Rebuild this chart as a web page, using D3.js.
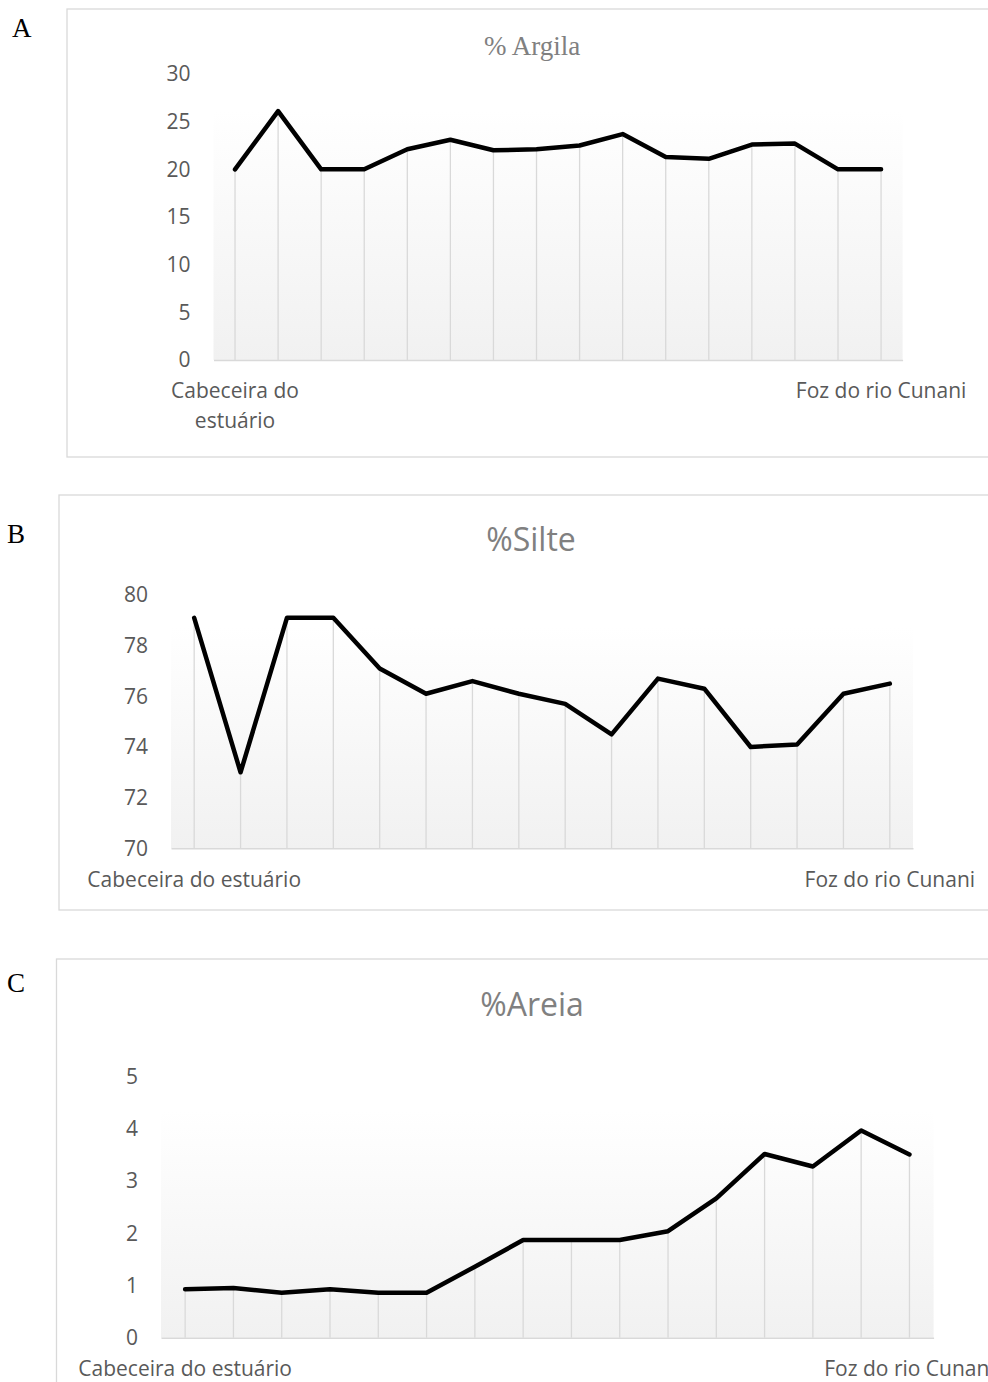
<!DOCTYPE html>
<html>
<head>
<meta charset="utf-8">
<script src="https://cdn.jsdelivr.net/npm/d3@7"></script>
<style>
  html, body { margin: 0; padding: 0; background: #fff; }
  svg { display: block; }
</style>
</head>
<body>
<svg id="chart" width="988" height="1382"></svg>
<script>
// ---------------- DATA ----------------
const stations = d3.range(1, 17);
const categoryLabels = ["Cabeceira do estuário", "", "", "", "", "", "", "", "", "", "", "", "", "", "", "Foz do rio Cunani"];
const argila = [20.0, 26.1, 20.0, 20.0, 22.1, 23.1, 22.0, 22.1, 22.5, 23.7, 21.3, 21.1, 22.6, 22.7, 20.0, 20.0];
const silte  = [79.1, 73.0, 79.1, 79.1, 77.1, 76.1, 76.6, 76.1, 75.7, 74.5, 76.7, 76.3, 74.0, 74.1, 76.1, 76.5];
const areia  = [0.93, 0.95, 0.86, 0.93, 0.86, 0.86, 1.36, 1.87, 1.87, 1.87, 2.04, 2.67, 3.52, 3.28, 3.97, 3.51];
const argilaTicks = [0, 5, 10, 15, 20, 25, 30];
const silteTicks  = [70, 72, 74, 76, 78, 80];
const areiaTicks  = [0, 1, 2, 3, 4, 5];
const titles = ["% Argila", "%Silte", "%Areia"];
const panelLetters = ["A", "B", "C"];

// ---------------- LAYOUT ----------------
const panels = [
  { values: argila, ticks: argilaTicks, title: titles[0], letter: panelLetters[0],
    box: {x: 67, y: 9, w: 960, h: 448},
    letterPos: {x: 12, y: 37},
    titlePos: {x: 532, y: 55}, titleFont: "'Liberation Serif', 'Times New Roman', serif", titleSize: 27,
    plot: {x0: 213.5, x1: 902.6, yTop: 74, yBot: 360, gradTop: 110},
    wrapFirst: true, catDy: 38 },
  { values: silte, ticks: silteTicks, title: titles[1], letter: panelLetters[1],
    box: {x: 59, y: 495, w: 960, h: 415},
    letterPos: {x: 7, y: 543},
    titlePos: {x: 531, y: 551}, titleFont: "'Open Sans', sans-serif", titleSize: 32,
    plot: {x0: 171, x1: 913, yTop: 595, yBot: 848.3, gradTop: 627},
    wrapFirst: false, catDy: 39 },
  { values: areia, ticks: areiaTicks, title: titles[2], letter: panelLetters[2],
    box: {x: 56.5, y: 959, w: 960, h: 460},
    letterPos: {x: 7, y: 992},
    titlePos: {x: 532, y: 1016}, titleFont: "'Open Sans', sans-serif", titleSize: 32,
    plot: {x0: 161, x1: 933.6, yTop: 1076.7, yBot: 1337.7, gradTop: 1110},
    wrapFirst: false, catDy: 38 }
];

const svg = d3.select("#chart");
const defs = svg.append("defs");
const grad = defs.append("linearGradient").attr("id", "plotGrad")
  .attr("x1", 0).attr("y1", 0).attr("x2", 0).attr("y2", 1);
grad.append("stop").attr("offset", "0%").attr("stop-color", "#ffffff");
grad.append("stop").attr("offset", "100%").attr("stop-color", "#f1f1f1");

const labelFont = "'Open Sans', sans-serif";
const labelColor = "#595959";

panels.forEach((p, pi) => {
  const g = svg.append("g");

  // chart box
  g.append("rect")
    .attr("x", p.box.x).attr("y", p.box.y)
    .attr("width", p.box.w).attr("height", p.box.h)
    .attr("fill", "#fff").attr("stroke", "#d9d9d9").attr("stroke-width", 1.3);

  // panel letter
  g.append("text")
    .attr("x", p.letterPos.x).attr("y", p.letterPos.y)
    .attr("font-family", "'Liberation Serif', 'Times New Roman', serif")
    .attr("font-size", 27).attr("fill", "#000")
    .text(p.letter);

  // title
  g.append("text")
    .attr("x", p.titlePos.x).attr("y", p.titlePos.y)
    .attr("text-anchor", "middle")
    .attr("font-family", p.titleFont)
    .attr("font-size", p.titleSize).attr("fill", "#808080")
    .text(p.title);

  const x = d3.scalePoint().domain(stations).range([p.plot.x0, p.plot.x1]).padding(0.5);
  const y = d3.scaleLinear().domain(d3.extent(p.ticks)).range([p.plot.yBot, p.plot.yTop]);

  // plot area gradient
  g.append("rect")
    .attr("x", p.plot.x0).attr("y", p.plot.gradTop)
    .attr("width", p.plot.x1 - p.plot.x0).attr("height", p.plot.yBot - p.plot.gradTop)
    .attr("fill", "url(#plotGrad)");

  // drop lines
  g.append("g").selectAll("line")
    .data(p.values)
    .join("line")
    .attr("x1", (d, i) => x(stations[i])).attr("x2", (d, i) => x(stations[i]))
    .attr("y1", d => y(d)).attr("y2", y(p.ticks[0]))
    .attr("stroke", "#d9d9d9").attr("stroke-width", 1.3);

  // y axis
  const yAxis = g.append("g")
    .attr("transform", `translate(${p.plot.x0},0)`)
    .call(d3.axisLeft(y).tickValues(p.ticks).tickFormat(d3.format("d")).tickSize(0).tickPadding(23));
  yAxis.select(".domain").remove();
  yAxis.selectAll("text")
    .attr("font-family", labelFont).attr("font-size", 21).attr("fill", labelColor);

  // x axis baseline
  const xAxis = g.append("g")
    .attr("transform", `translate(0,${y(p.ticks[0])})`)
    .call(d3.axisBottom(x).tickSize(0).tickFormat(() => ""));
  xAxis.select(".domain").attr("stroke", "#d9d9d9").attr("stroke-width", 1.5);

  // category labels
  const cat = g.append("g").selectAll("text")
    .data(stations.filter((s, i) => categoryLabels[i] !== ""))
    .join("text")
    .attr("x", s => x(s))
    .attr("y", y(p.ticks[0]) + p.catDy)
    .attr("text-anchor", "middle")
    .attr("font-family", labelFont).attr("font-size", 21).attr("fill", labelColor);
  cat.each(function(s) {
    const label = categoryLabels[stations.indexOf(s)];
    const t = d3.select(this);
    if (p.wrapFirst && stations.indexOf(s) === 0) {
      const parts = ["Cabeceira do", "estuário"];
      parts.forEach((w, k) => t.append("tspan").attr("x", x(s)).attr("dy", k === 0 ? 0 : 30).text(w));
    } else {
      t.text(label);
    }
  });

  // line
  g.append("path")
    .datum(p.values)
    .attr("fill", "none").attr("stroke", "#000").attr("stroke-width", 4.5)
    .attr("stroke-linejoin", "round").attr("stroke-linecap", "round")
    .attr("d", d3.line().x((d, i) => x(stations[i])).y(d => y(d)));
});
</script>
</body>
</html>
